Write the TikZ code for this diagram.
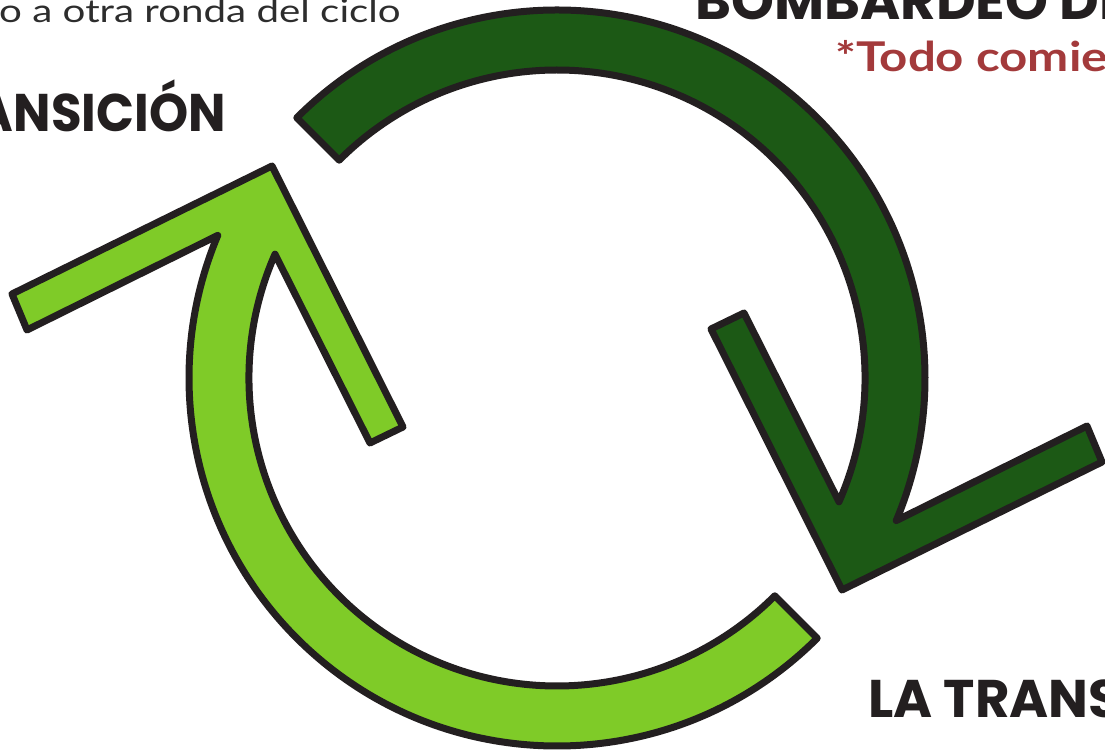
\documentclass[tikz,border=0pt]{standalone}
\usepackage{graphicx}
\usepackage{fontspec}
\setmainfont{Lato}
\newfontfamily\heavyfont{Poppins}
\usetikzlibrary{calc}
\definecolor{darkg}{RGB}{28,89,21}
\definecolor{lightg}{RGB}{127,203,40}
\definecolor{outline}{RGB}{35,31,32}
\definecolor{redtxt}{RGB}{163,58,59}
\definecolor{graytxt}{RGB}{45,45,45}
\begin{document}
\begin{tikzpicture}[x=1pt,y=1pt,
  arrowshape/.style={draw=outline, line width=7pt, line join=round},
  headtxt/.style={inner sep=0pt, text=outline, font=\heavyfont\bfseries\fontsize{53}{60}\selectfont},
  redlbl/.style={inner sep=0pt, text=redtxt, font=\bfseries\fontsize{41}{48}\selectfont},
  thintxt/.style={inner sep=0pt, text=graytxt, font=\fontsize{32}{36}\selectfont}]
\useasboundingbox (0,0) rectangle (1105,751);
\clip (0,0) rectangle (1105,751);
\coordinate (C) at (557,373);
% dark green arrow
\draw[arrowshape, fill=darkg] ($(C)+(135:368)$) arc[start angle=135,end angle=-22.8,radius=368]
  -- (1087,325) -- (1102,289) -- (842,161) -- (711,422) -- (744,438)
  -- ($(C)+(-23.7:308)$) arc[start angle=-23.7,end angle=135,radius=308] -- cycle;
% light green arrow
\draw[arrowshape, fill=lightg] ($(C)+(315:368)$) arc[start angle=315,end angle=157.2,radius=368]
  -- (27,421) -- (12,457) -- (272,585) -- (403,324) -- (370,308)
  -- ($(C)+(156.3:308)$) arc[start angle=156.3,end angle=315,radius=308] -- cycle;
% texts
\node[thintxt, anchor=base east] (cycle) at (401,728.5) {\scalebox{1.26}[1]{o a otra ronda del ciclo}};
\node[headtxt, anchor=base east] (ansicion) at (226,619) {\scalebox{0.94}[1]{ANSICIÓN}};
\node[headtxt, anchor=base west] (bombardeo) at (695,731) {\scalebox{1.03}[1]{BOMBARDEO DE}};
\node[redlbl, anchor=base west] (todo) at (835,679) {\scalebox{1.2}[1]{*Todo comie}};
\node[headtxt, anchor=base west] (latrans) at (868,33) {LA TRANS};
\end{tikzpicture}
\end{document}
